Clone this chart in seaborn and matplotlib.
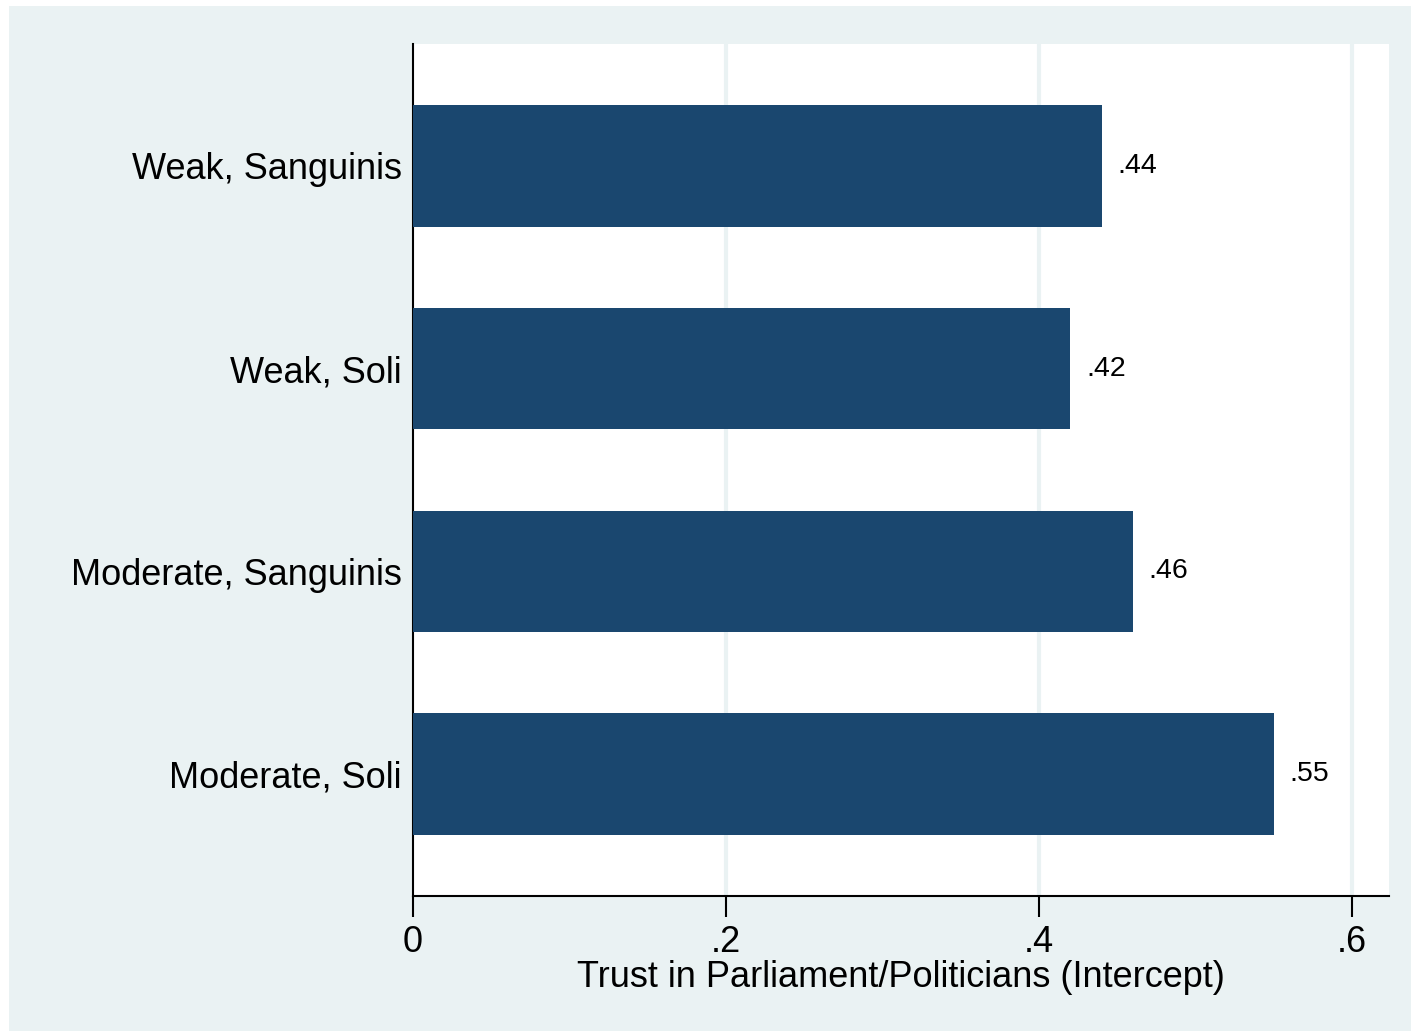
import pandas as pd
import numpy as np
import matplotlib
matplotlib.use('Agg')
import matplotlib.pyplot as plt
import seaborn as sns

categories = ['Weak, Sanguinis', 'Weak, Soli', 'Moderate, Sanguinis', 'Moderate, Soli']
values = [0.44, 0.42, 0.46, 0.55]
bar_labels = ['.44', '.42', '.46', '.55']
xticks = [0, 0.2, 0.4, 0.6]
xtick_labels = ['0', '.2', '.4', '.6']

df = pd.DataFrame({'group': categories, 'trust': values})

sns.set_style('white')
plt.rcParams['font.family'] = ['Liberation Sans', 'DejaVu Sans']
plt.rcParams['text.color'] = 'black'
plt.rcParams['axes.labelcolor'] = 'black'
plt.rcParams['xtick.color'] = 'black'
plt.rcParams['ytick.color'] = 'black'

bg = '#eaf2f3'
navy = '#1a476f'

fig = plt.figure(figsize=(14.11, 10.31), dpi=100, facecolor='white')
fig.patches.append(plt.Rectangle((9 / 1411, 0), 1 - 9 / 1411, 1 - 6 / 1031,
                                 transform=fig.transFigure, facecolor=bg,
                                 edgecolor='none', zorder=-1))

ax = fig.add_axes([413 / 1411, 135 / 1031, 976 / 1411, 852 / 1031])
ax.set_facecolor('white')

sns.barplot(data=df, x='trust', y='group', orient='h', color=navy,
            width=0.6, saturation=1, ax=ax, zorder=3)

for patch in ax.patches:
    patch.set_edgecolor('none')

ax.set_xlim(0, 0.6236)
ax.set_ylim(3.6, -0.6)

ax.set_xticks(xticks)
ax.set_xticklabels(xtick_labels, fontsize=26)
for x in xticks[1:]:
    ax.axvline(x, color=bg, linewidth=3, zorder=1)

ax.tick_params(axis='x', bottom=True, direction='out', length=15, width=1.5,
               color='black', labelcolor='black', pad=6)
ax.tick_params(axis='y', left=False, length=0, pad=8, labelsize=26,
               labelcolor='black')

for i, (v, lab) in enumerate(zip(values, bar_labels)):
    ax.text(v + 0.01, i, lab, va='center', ha='left', fontsize=20.5,
            color='black', zorder=4)

for s in ['top', 'right']:
    ax.spines[s].set_visible(False)
for s in ['left', 'bottom']:
    ax.spines[s].set_color('black')
    ax.spines[s].set_linewidth(1.5)

ax.set_ylabel('')
ax.set_xlabel('Trust in Parliament/Politicians (Intercept)', fontsize=26,
              labelpad=0, color='black')

fig.savefig('out.png', dpi=100, facecolor=fig.get_facecolor())
